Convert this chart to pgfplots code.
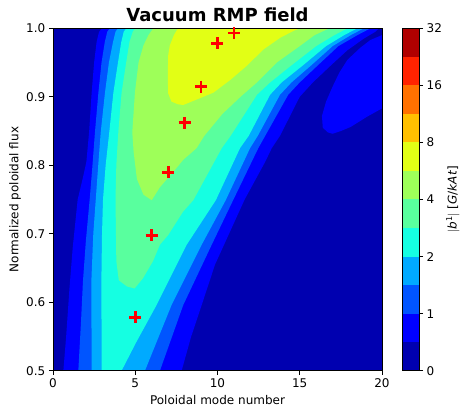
\documentclass[border=0pt]{standalone}
\usepackage{pgfplots}
\pgfplotsset{compat=1.18}
\usepackage{fontspec}
\setmainfont{DejaVu Sans}
\definecolor{c0}{rgb}{0,0,0.689}
\definecolor{c1}{rgb}{0,0,1}
\definecolor{c2}{rgb}{0,0.333,1}
\definecolor{c3}{rgb}{0,0.667,1}
\definecolor{c4}{rgb}{0.081,1,0.887}
\definecolor{c5}{rgb}{0.349,1,0.618}
\definecolor{c6}{rgb}{0.618,1,0.349}
\definecolor{c7}{rgb}{0.887,1,0.081}
\definecolor{c8}{rgb}{1,0.753,0}
\definecolor{c9}{rgb}{1,0.444,0}
\definecolor{c10}{rgb}{1,0.136,0}
\definecolor{c11}{rgb}{0.689,0,0}
\begin{document}
\begin{tikzpicture}
\path[use as bounding box] (-53pt,-35.3pt) rectangle (408pt,370.7pt);
\begin{axis}[
  name=main, at={(0pt,0pt)}, anchor=south west,
  width=329pt, height=342.4pt, scale only axis,
  xmin=0, xmax=20, ymin=0.5, ymax=1,
  xtick={0,5,10,15,20}, ytick={0.5,0.6,0.7,0.8,0.9,1.0},
  y tick label style={/pgf/number format/fixed,/pgf/number format/fixed zerofill,/pgf/number format/precision=1},
  /pgf/number format/assume math mode=true,
  tick align=outside, major tick length=4.2pt, xtick pos=left, ytick pos=left,
  tick style={black, line width=0.8pt},
  axis line style={black, line width=0.8pt},
  tick label style={font=\fontsize{12}{14}\selectfont},
  label style={font=\fontsize{12}{14}\selectfont},
  xlabel={Poloidal mode number}, ylabel={Normalized poloidal flux},
  x label style={at={(axis description cs:0.5,-0.0856)}, anchor=center},
  y label style={at={(axis description cs:-0.1155,0.5)}, anchor=center},
  title={Vacuum RMP field},
  title style={font=\bfseries\fontsize{18}{21}\selectfont, at={(axis description cs:0.5,1)}, anchor=base, yshift=1pt},
  axis background/.style={fill=c0},
  axis on top,
]
% |b1| >= 0.5 (main region)
\addplot[fill=c1, draw=none] coordinates {
 (0.63,0.5) (0.8,0.55) (1.0,0.62) (1.2,0.68) (1.5,0.75) (1.8,0.78) (2.03,0.805) (2.2,0.85) (2.35,0.906) (2.5,0.95) (2.65,0.98) (2.8,0.995) (3.0,1.0)
 (19.8,1.0) (19.6,0.995) (18.9,0.985) (17.9,0.968) (16.9,0.946) (15.8,0.921) (15.0,0.9) (13.8,0.843) (13.3,0.825) (12.9,0.805) (11.65,0.75) (10.4,0.684) (9.85,0.655) (9.04,0.596) (8.4,0.55) (7.82,0.5)
} --cycle;
% |b1| >= 0.5 (blob)
\addplot[fill=c1, draw=none] coordinates {
 (20,0.99) (19.3,0.983) (18.7,0.972) (17.9,0.954) (17.4,0.935) (17.0,0.915) (16.6,0.893) (16.35,0.872) (16.4,0.855) (16.7,0.848) (17.0,0.846) (17.5,0.85) (18.1,0.856) (19.1,0.871) (20,0.883)
} --cycle;
% >= 1
\addplot[fill=c2, draw=none] coordinates {
 (1.54,0.5) (1.7,0.57) (1.82,0.63) (2.0,0.69) (2.23,0.75) (2.4,0.8) (2.55,0.848) (2.76,0.906) (2.95,0.95) (3.15,0.98) (3.3,0.995) (3.45,1.0)
 (19.3,1.0) (18.5,0.99) (17.35,0.974) (16.1,0.946) (15.0,0.921) (14.3,0.903) (12.9,0.843) (12.48,0.825) (10.95,0.749) (9.65,0.684) (7.92,0.596) (6.5,0.5)
} --cycle;
% >= 1.5
\addplot[fill=c3, draw=none] coordinates {
 (2.35,0.5) (2.33,0.63) (2.45,0.7) (2.6,0.75) (2.75,0.8) (2.9,0.848) (3.16,0.906) (3.4,0.95) (3.65,0.98) (3.8,0.995) (3.95,1.0)
 (18.9,1.0) (18.1,0.99) (17.0,0.974) (15.7,0.946) (14.5,0.921) (13.8,0.903) (12.45,0.843) (11.98,0.825) (10.5,0.749) (9.04,0.684) (7.21,0.596) (5.59,0.5)
} --cycle;
% >= 2
\addplot[fill=c4, draw=none] coordinates {
 (2.96,0.5) (2.94,0.63) (2.98,0.7) (3.04,0.75) (3.2,0.8) (3.42,0.848) (3.67,0.906) (3.95,0.95) (4.15,0.98) (4.3,0.995) (4.45,1.0)
 (18.5,1.0) (17.7,0.99) (16.6,0.974) (15.2,0.946) (13.9,0.921) (13.2,0.903) (11.9,0.843) (11.37,0.825) (9.9,0.749) (8.13,0.684) (6.3,0.596) (5.07,0.542) (4.17,0.5)
} --cycle;
% >= 3
\addplot[fill=c5, draw=none] coordinates {
 (4.96,0.62) (4.5,0.623) (4.0,0.632) (3.85,0.66) (3.8,0.75) (3.85,0.8) (3.97,0.848) (4.17,0.906) (4.45,0.95) (4.65,0.98) (4.85,0.995) (5.0,1.0)
 (17.9,1.0) (17.1,0.99) (16.0,0.974) (14.5,0.946) (13.2,0.921) (12.4,0.903) (10.8,0.843) (10.26,0.825) (8.53,0.749) (7.9,0.732) (7.0,0.698) (6.5,0.684) (6.08,0.66) (5.47,0.635)
} --cycle;
% >= 4
\addplot[fill=c6, draw=none] coordinates {
 (6.0,0.749) (5.5,0.757) (5.1,0.78) (4.9,0.82) (4.82,0.848) (4.98,0.906) (5.2,0.95) (5.5,0.975) (5.8,0.99) (6.1,1.0)
 (16.8,1.0) (15.9,0.99) (15.0,0.974) (13.6,0.95) (12.4,0.921) (11.4,0.9) (10.3,0.875) (9.2,0.843) (8.73,0.825) (7.92,0.808) (7.3,0.79) (6.5,0.768)
} --cycle;
% >= 6
\addplot[fill=c7, draw=none] coordinates {
 (7.6,1.0) (7.35,0.99) (7.1,0.975) (7.0,0.96) (6.98,0.93) (7.0,0.905) (7.2,0.893) (7.6,0.889) (7.92,0.888) (8.94,0.898) (9.75,0.906) (10.8,0.925) (11.77,0.945) (12.79,0.969) (13.8,0.986) (14.6,0.996) (15.0,1.0)
} --cycle;
% resonant points
\addplot[only marks, mark=+, mark size=6pt, red, line width=2.8pt] coordinates {
 (5,0.578) (6,0.698) (7,0.79) (8,0.862) (9,0.915) (10,0.978) (11,0.993)
};
\end{axis}
\begin{axis}[
  at={(349pt,0pt)}, anchor=south west,
  width=17pt, height=342.4pt, scale only axis,
  xmin=0, xmax=1, ymin=0, ymax=12,
  xtick=\empty, ytick={0,2,4,6,8,10,12}, yticklabels={0,1,2,4,8,16,32},
  ytick pos=right, yticklabel pos=right,
  tick align=outside, major tick length=4.2pt,
  tick style={black, line width=0.8pt},
  axis line style={black, line width=0.8pt},
  tick label style={font=\fontsize{12}{14}\selectfont},
  label style={font=\fontsize{12}{14}\selectfont},
  ylabel={$|$\textit{b}\textsuperscript{1}$|$ [\textit{G}/\textit{kAt}]},
  y label style={at={(axis description cs:3.0,0.5)}, anchor=center, inner sep=0pt},
  axis on top,
]
\addplot[fill=c0, draw=none] coordinates {(0,0) (1,0) (1,1) (0,1)} --cycle;
\addplot[fill=c1, draw=none] coordinates {(0,1) (1,1) (1,2) (0,2)} --cycle;
\addplot[fill=c2, draw=none] coordinates {(0,2) (1,2) (1,3) (0,3)} --cycle;
\addplot[fill=c3, draw=none] coordinates {(0,3) (1,3) (1,4) (0,4)} --cycle;
\addplot[fill=c4, draw=none] coordinates {(0,4) (1,4) (1,5) (0,5)} --cycle;
\addplot[fill=c5, draw=none] coordinates {(0,5) (1,5) (1,6) (0,6)} --cycle;
\addplot[fill=c6, draw=none] coordinates {(0,6) (1,6) (1,7) (0,7)} --cycle;
\addplot[fill=c7, draw=none] coordinates {(0,7) (1,7) (1,8) (0,8)} --cycle;
\addplot[fill=c8, draw=none] coordinates {(0,8) (1,8) (1,9) (0,9)} --cycle;
\addplot[fill=c9, draw=none] coordinates {(0,9) (1,9) (1,10) (0,10)} --cycle;
\addplot[fill=c10, draw=none] coordinates {(0,10) (1,10) (1,11) (0,11)} --cycle;
\addplot[fill=c11, draw=none] coordinates {(0,11) (1,11) (1,12) (0,12)} --cycle;
\end{axis}
\end{tikzpicture}
\end{document}
